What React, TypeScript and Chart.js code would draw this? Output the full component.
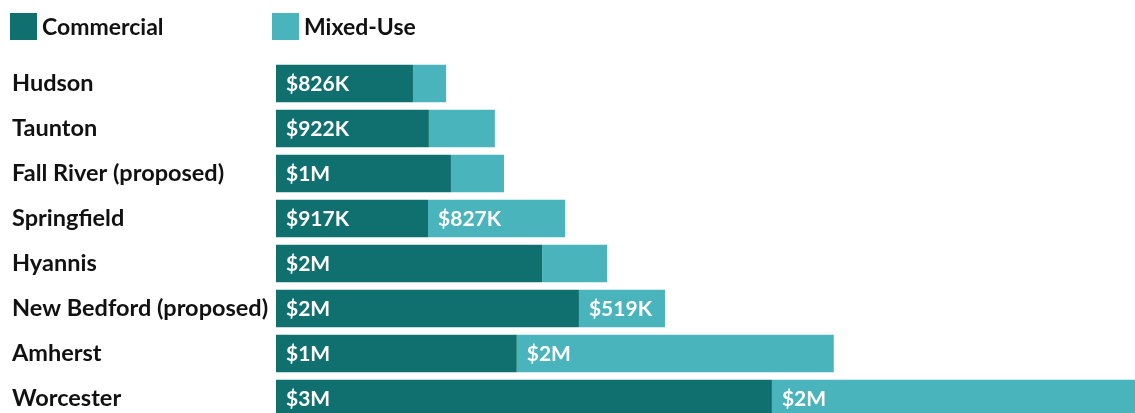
import React, { useEffect, useRef } from "react";
import { Chart, registerables } from "chart.js";

Chart.register(...registerables);

const cities = [
  "Hudson",
  "Taunton",
  "Fall River (proposed)",
  "Springfield",
  "Hyannis",
  "New Bedford (proposed)",
  "Amherst",
  "Worcester",
];
const commercial = [826, 922, 1055, 917, 1605, 1827, 1452, 2991];
const mixedUse = [200, 398, 320, 827, 392, 519, 1912, 2220];
const seriesNames = ["Commercial", "Mixed-Use"];
const seriesColors = ["#0f706f", "#4ab4bd"];

const FONT = "Lato, 'Source Sans Pro', 'Noto Sans', sans-serif";

function fmt(v: number): string {
  if (v < 1000) return "$" + Math.round(v) + "K";
  return "$" + Math.round(v / 1000) + "M";
}

const labelPlugin = {
  id: "segLabels",
  afterDatasetsDraw(chart: any) {
    const ctx = chart.ctx;
    ctx.save();
    ctx.font = "bold 21px " + FONT;
    ctx.fillStyle = "#ffffff";
    ctx.textAlign = "left";
    ctx.textBaseline = "middle";
    chart.data.datasets.forEach((ds: any, di: number) => {
      const meta = chart.getDatasetMeta(di);
      meta.data.forEach((el: any, i: number) => {
        const p = el.getProps(["x", "y", "base"], true);
        const w = p.x - p.base;
        if (w >= 75) {
          ctx.fillText(fmt(ds.data[i]), p.base + 10, p.y + 1);
        }
      });
    });
    ctx.restore();
  },
};

export default function App() {
  const ref = useRef<HTMLCanvasElement | null>(null);
  useEffect(() => {
    document.documentElement.style.overflow = "hidden";
    if (!ref.current) return;
    const maxVal = Math.max(...commercial.map((c, i) => c + mixedUse[i]));
    const chart = new Chart(ref.current, {
      type: "bar",
      data: {
        labels: cities,
        datasets: [
          {
            label: seriesNames[0],
            data: commercial,
            backgroundColor: seriesColors[0],
            borderWidth: 0,
            categoryPercentage: 1,
            barPercentage: 0.83,
          },
          {
            label: seriesNames[1],
            data: mixedUse,
            backgroundColor: seriesColors[1],
            borderWidth: 0,
            categoryPercentage: 1,
            barPercentage: 0.83,
          },
        ],
      },
      options: {
        indexAxis: "y",
        animation: false,
        responsive: false,
        maintainAspectRatio: false,
        devicePixelRatio: 1,
        layout: { padding: { left: 4, top: 53, bottom: 22, right: 0 } },
        plugins: {
          legend: { display: false },
          tooltip: { enabled: false },
        },
        scales: {
          x: {
            stacked: true,
            display: false,
            min: 0,
            max: maxVal,
          },
          y: {
            stacked: true,
            grid: { display: false },
            border: { display: false },
            afterFit: (axis: any) => {
              axis.width = 264;
            },
            ticks: {
              crossAlign: "far",
              color: "#111111",
              font: { family: FONT, size: 23.5, weight: "bold" },
              padding: 0,
            },
          },
        },
      },
      plugins: [labelPlugin],
    });
    return () => chart.destroy();
  }, []);

  return (
    <div
      style={{
        position: "absolute",
        left: 8,
        top: 8,
        width: 1132,
        height: 435,
        fontFamily: FONT,
      }}
    >
      <canvas
        ref={ref}
        width={1132}
        height={435}
        style={{
          position: "absolute",
          left: 0,
          top: 0,
          width: 1132,
          height: 435,
          display: "block",
        }}
      />
      <div
        style={{
          position: "absolute",
          left: 2,
          top: 5,
          display: "flex",
          alignItems: "center",
          fontWeight: "bold",
          fontSize: 23,
          color: "#111111",
        }}
      >
        {seriesNames.map((n, i) => (
          <div
            key={n}
            style={{
              display: "flex",
              alignItems: "center",
              width: i === 0 ? 262 : undefined,
            }}
          >
            <span
              style={{
                display: "inline-block",
                width: 27,
                height: 27,
                background: seriesColors[i],
                marginRight: 5,
              }}
            />
            <span style={{ lineHeight: "27px" }}>{n}</span>
          </div>
        ))}
      </div>
    </div>
  );
}
